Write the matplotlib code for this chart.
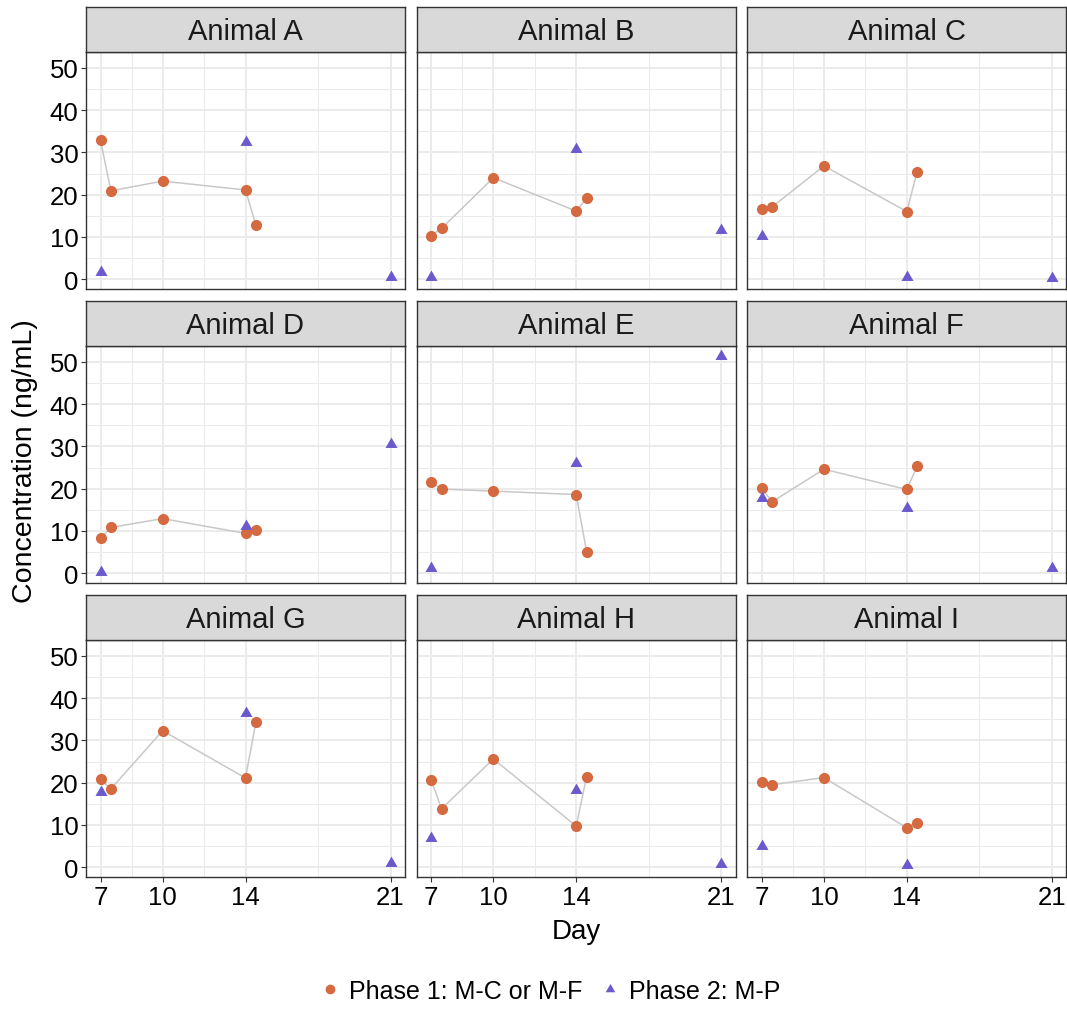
import matplotlib
matplotlib.use("Agg")
import matplotlib.pyplot as plt
from matplotlib.lines import Line2D
import numpy as np

plt.rcParams['font.family'] = ['Liberation Sans', 'DejaVu Sans']

animals = ["Animal A", "Animal B", "Animal C", "Animal D", "Animal E",
           "Animal F", "Animal G", "Animal H", "Animal I"]

phase1_days = [7, 7.5, 10, 14, 14.5]
phase1_vals = {
    "Animal A": [32.9, 20.9, 23.2, 21.1, 12.8],
    "Animal B": [10.3, 12.0, 24.0, 16.1, 19.1],
    "Animal C": [16.6, 17.1, 26.8, 16.0, 25.4],
    "Animal D": [8.2, 10.8, 12.9, 9.4, 10.2],
    "Animal E": [21.5, 19.9, 19.4, 18.6, 5.1],
    "Animal F": [20.1, 16.9, 24.6, 19.8, 25.3],
    "Animal G": [20.8, 18.5, 32.3, 21.1, 34.3],
    "Animal H": [20.6, 13.8, 25.6, 9.7, 21.4],
    "Animal I": [20.1, 19.5, 21.2, 9.3, 10.5],
}

phase2_days = {
    "Animal A": [7, 14, 21],
    "Animal B": [7, 14, 21],
    "Animal C": [7, 14, 21],
    "Animal D": [7, 14, 21],
    "Animal E": [7, 14, 21],
    "Animal F": [7, 14, 21],
    "Animal G": [7, 14, 21],
    "Animal H": [7, 14, 21],
    "Animal I": [7, 14],
}
phase2_vals = {
    "Animal A": [1.6, 32.5, 0.6],
    "Animal B": [0.6, 30.8, 11.7],
    "Animal C": [10.2, 0.5, 0.2],
    "Animal D": [0.2, 11.2, 30.6],
    "Animal E": [1.1, 26.0, 51.3],
    "Animal F": [17.8, 15.4, 1.2],
    "Animal G": [17.8, 36.5, 0.9],
    "Animal H": [7.0, 18.2, 0.7],
    "Animal I": [5.1, 0.5],
}

x_breaks = [7, 10, 14, 21]
x_minor = [8.5, 12, 17.5]
y_breaks = [0, 10, 20, 30, 40, 50]
y_minor = [5, 15, 25, 35, 45]

legend_labels = ["Phase 1: M-C or M-F", "Phase 2: M-P"]

ORANGE = "#D5693F"
PURPLE = "#6A5ACD"
LINEC = "#C8C8C8"
GRID = "#EBEBEB"
BORDER = "#333333"
STRIP = "#D9D9D9"

W, H = 1067, 1012
fig = plt.figure(figsize=(W / 100, H / 100), dpi=100)

col_left = [86, 416.7, 747.3]
panel_w = 319
row_top = [52.7, 346.7, 640.7]
panel_h = 237.3
strip_h = 44.5

tri = [(0, 1), (-0.866, -0.5), (0.866, -0.5)]

all_y = []
for a in animals:
    all_y += phase1_vals[a] + phase2_vals[a]
ymin, ymax = min(all_y), max(all_y)
yr = ymax - ymin
ylim = (ymin - 0.05 * yr, ymax + 0.05 * yr)
xr = max(x_breaks) - min(x_breaks)
xlim = (min(x_breaks) - 0.05 * xr, max(x_breaks) + 0.05 * xr)

for i, a in enumerate(animals):
    r, c = divmod(i, 3)
    L = col_left[c]
    T = row_top[r]
    ax = fig.add_axes([L / W, 1 - (T + panel_h) / H, panel_w / W, panel_h / H])
    ax.set_xlim(*xlim)
    ax.set_ylim(*ylim)
    for xm in x_minor:
        ax.axvline(xm, color=GRID, lw=0.7, zorder=0)
    for ym in y_minor:
        ax.axhline(ym, color=GRID, lw=0.7, zorder=0)
    for xb in x_breaks:
        ax.axvline(xb, color=GRID, lw=1.4, zorder=0)
    for yb in y_breaks:
        ax.axhline(yb, color=GRID, lw=1.4, zorder=0)
    ax.plot(phase1_days, phase1_vals[a], color=LINEC, lw=1.1, zorder=2)
    ax.plot(phase1_days, phase1_vals[a], linestyle='none', marker='o',
            ms=7, color=ORANGE, mec=ORANGE, zorder=3)
    ax.plot(phase2_days[a], phase2_vals[a], linestyle='none', marker=tri,
            ms=10, color=PURPLE, mec=PURPLE, mew=0, zorder=3)
    ax.set_xticks(x_breaks)
    ax.set_yticks(y_breaks)
    for s in ax.spines.values():
        s.set_color(BORDER)
        s.set_linewidth(1.0)
    ax.tick_params(axis='both', length=3.5, width=0.8, color=BORDER,
                   labelsize=18.5, labelcolor='black', pad=2)
    if c != 0:
        ax.tick_params(axis='y', labelleft=False, length=0)
    if r != 2:
        ax.tick_params(axis='x', labelbottom=False, length=0)

    sax = fig.add_axes([L / W, 1 - T / H, panel_w / W, strip_h / H])
    sax.set_facecolor(STRIP)
    sax.set_xticks([])
    sax.set_yticks([])
    for s in sax.spines.values():
        s.set_color(BORDER)
        s.set_linewidth(1.0)
    sax.text(0.5, 0.46, a, ha='center', va='center', fontsize=21,
             color='#1A1A1A', transform=sax.transAxes)

fig.text(25 / W, 1 - 461 / H, "Concentration (ng/mL)", rotation=90,
         ha='center', va='center', fontsize=20.5)
fig.text(576 / W, 1 - 932 / H, "Day", ha='center', va='center', fontsize=20)

handles = [
    Line2D([], [], linestyle='none', marker='o', ms=6, color=ORANGE),
    Line2D([], [], linestyle='none', marker=tri, ms=8, color=PURPLE, mew=0),
]
fig.legend(handles, legend_labels, loc='center', ncol=2,
           bbox_to_anchor=(549 / W, 1 - 992 / H), frameon=False,
           fontsize=18, handletextpad=0.25, columnspacing=0.6,
           handlelength=1.0)

fig.savefig("out.png", dpi=100)
